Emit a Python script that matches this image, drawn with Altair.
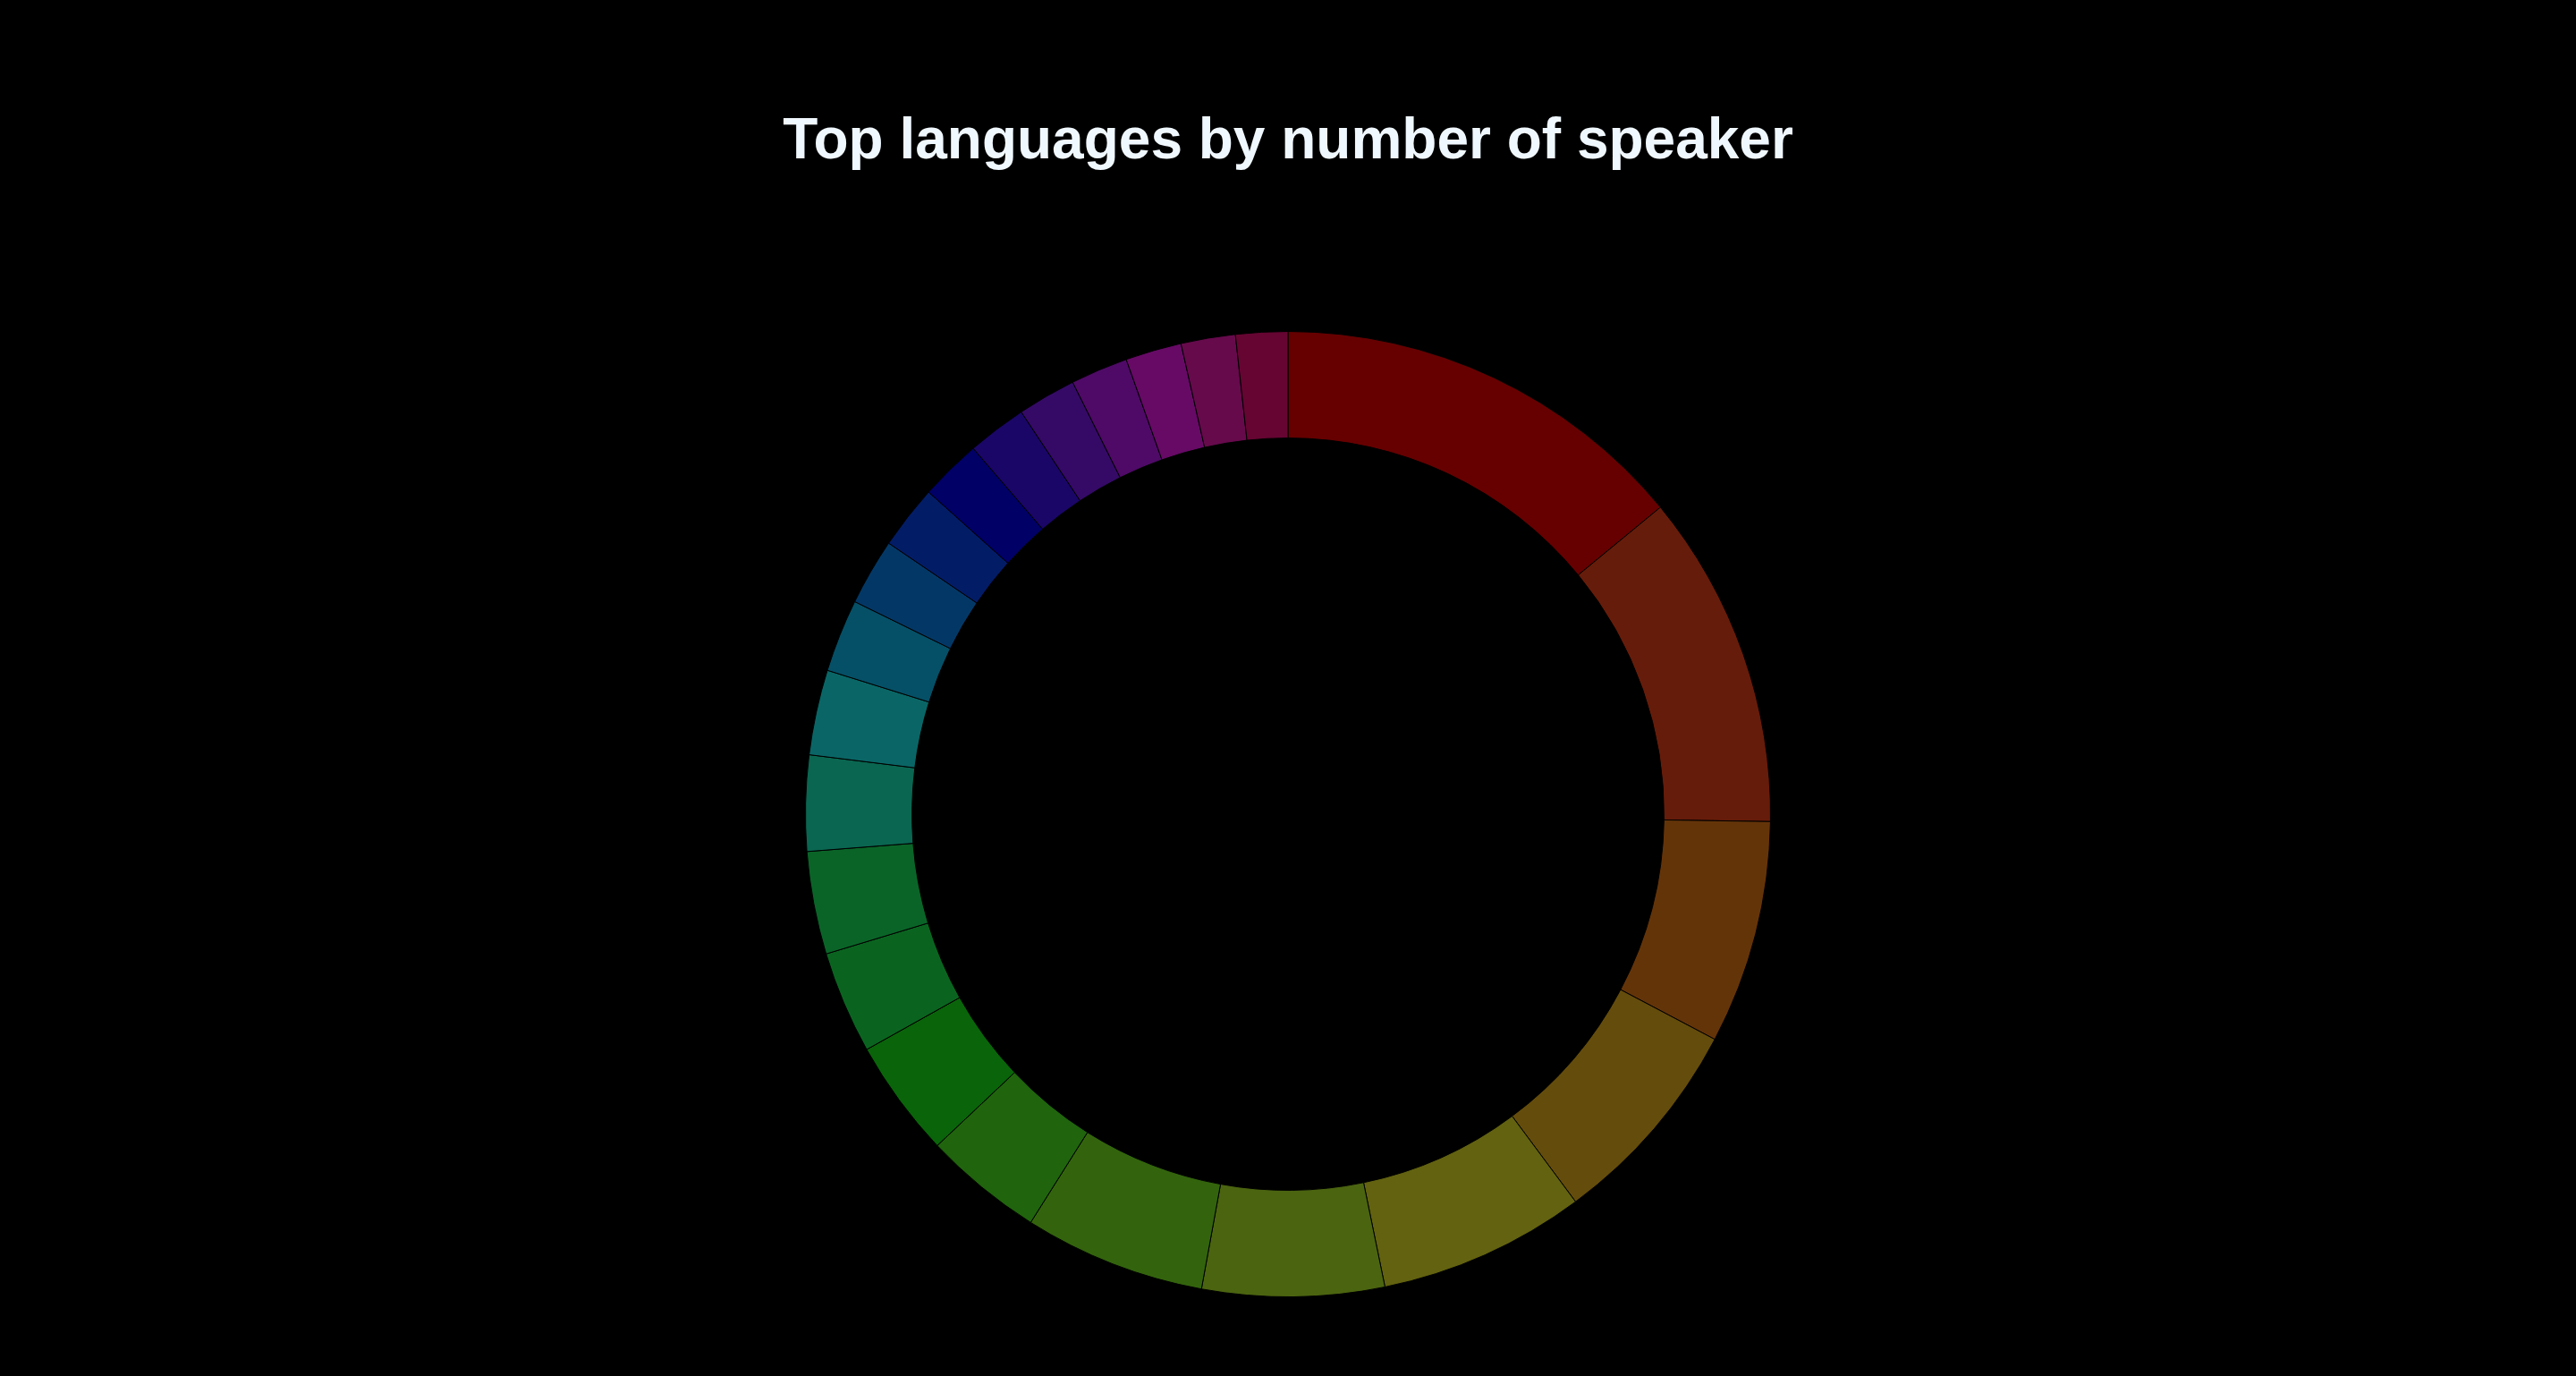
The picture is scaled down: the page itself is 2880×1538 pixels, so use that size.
import altair as alt
import pandas as pd

languages = [
    "Mandarin", "English", "Spanish", "Hindi", "Arabic", "Bengali",
    "Portuguese", "Russian", "Japanese", "German", "Javanese", "Punjabi",
    "Korean", "French", "Telugu", "Marathi", "Turkish", "Tamil",
    "Vietnamese", "Urdu", "Italian", "Malay", "Persian",
]
share = [
    14.03, 11.21, 7.48, 7.11, 6.94, 6.09, 6.08, 4.00, 3.94, 3.43, 3.44,
    3.20, 2.85, 2.44, 2.23, 2.14, 2.06, 1.99, 1.96, 1.92, 1.88, 1.82, 1.74,
]
colors = [
    "#660000", "#661c0a", "#643409", "#644c0c", "#626210", "#4b6410",
    "#33640d", "#20640d", "#0a640a", "#0a6420", "#0a6428", "#0a6650",
    "#0a6666", "#055066", "#033866", "#031c66", "#000066", "#1a0666",
    "#340a66", "#4e0a66", "#660a66", "#660a4c", "#660532",
]

df = pd.DataFrame({
    "language": languages,
    "share": share,
    "order": list(range(len(languages))),
})

chart = (
    alt.Chart(df)
    .mark_arc(outerRadius=539.5, innerRadius=420.4, stroke="black", strokeWidth=1)
    .encode(
        theta=alt.Theta("share:Q", stack=True),
        order=alt.Order("order:Q", sort="ascending"),
        color=alt.Color(
            "language:N",
            scale=alt.Scale(domain=languages, range=colors),
            legend=None,
        ),
    )
    .properties(
        width=2880,
        height=1538,
        autosize=alt.AutoSizeParams(type="fit", contains="padding"),
        padding={"top": 126, "left": 0, "right": 0, "bottom": 0},
        background="black",
        title=alt.TitleParams(
            text="Top languages by number of speaker",
            font="Liberation Sans",
            fontSize=64,
            fontWeight="bold",
            color="#f0f8ff",
            anchor="middle",
            offset=92,
        ),
    )
    .configure_view(stroke=None)
)

chart.save("out.html", embed_options={"renderer": "svg", "actions": False})
